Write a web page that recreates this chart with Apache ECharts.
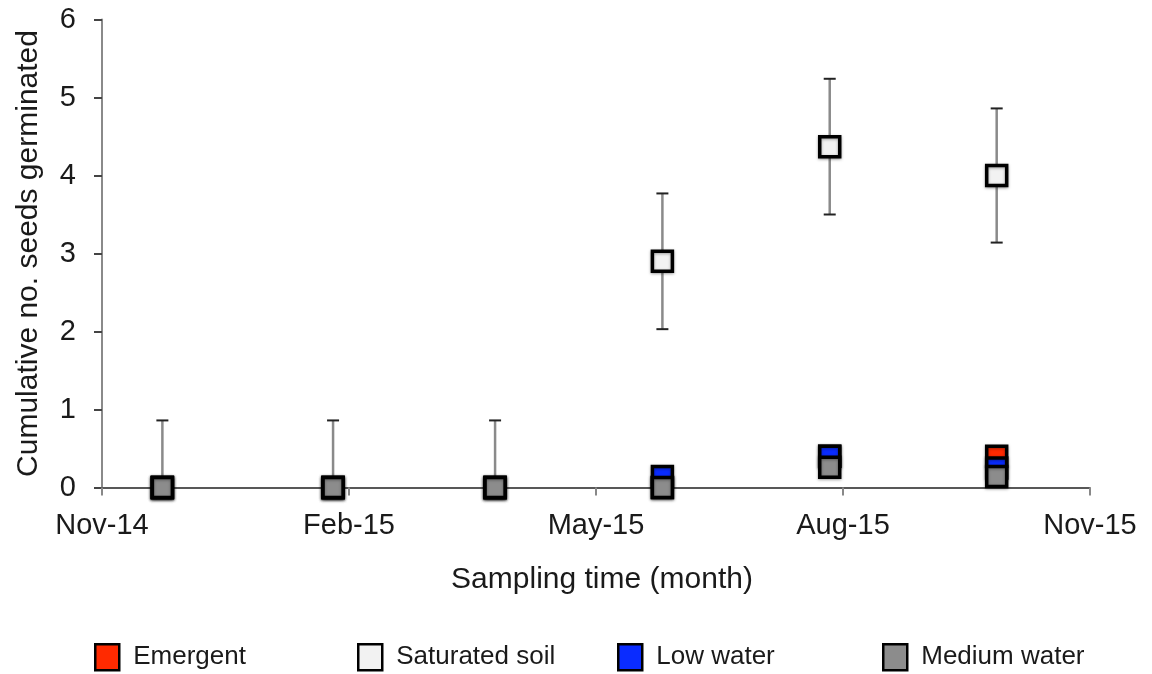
<!DOCTYPE html>
<html>
<head>
<meta charset="utf-8">
<title>Cumulative seed germination</title>
<script src="https://cdn.jsdelivr.net/npm/echarts@6/dist/echarts.min.js"></script>
<style>
  html, body { margin: 0; padding: 0; background: #ffffff; }
  #chart { width: 1152px; height: 674px; }
</style>
</head>
<body>
<div id="chart"></div>
<script>
// Sampling dates of the germination trial
const sampleDates = ['2014-11-23', '2015-01-26', '2015-03-25', '2015-05-26', '2015-07-27', '2015-09-27'];

// Mean cumulative number of seeds germinated per treatment
const emergent = [0, 0, 0, 0, 0.40, 0.40];
const saturatedSoil = [0, 0, 0, 2.90, 4.37, 4.00];
const saturatedSoilErr = [0.86, 0.86, 0.86, 0.87, 0.87, 0.86];
const lowWater = [0, 0, 0, 0.14, 0.40, 0.25];
const mediumWater = [0, 0, 0, 0, 0.26, 0.14];

// Month axis ticks (one every three months, starting Nov-14)
const tickDates = ['2014-11-01', '2015-02-01', '2015-05-01', '2015-08-01', '2015-11-01'];
const tickLabels = ['Nov-14', 'Feb-15', 'May-15', 'Aug-15', 'Nov-15'];
const yTickLabels = ['0', '1', '2', '3', '4', '5', '6'];

const FONT = "'Liberation Sans', Arial, Helvetica, sans-serif";
const TEXT = '#1a1a1a';

// Position of a date on a month-based axis (0 = start of the first tick month)
function monthPos(str) {
  const [y, m, d] = str.split('-').map(Number);
  const [y0, m0] = tickDates[0].split('-').map(Number);
  const daysInMonth = new Date(y, m, 0).getDate();
  return (y - y0) * 12 + (m - m0) + (d - 1) / daysInMonth;
}

const xs = sampleDates.map(monthPos);
const tickPos = tickDates.map(monthPos);
const xStep = tickPos[1] - tickPos[0];

function pairs(values) {
  return values.map((v, i) => [xs[i], v]);
}

const colors = {
  'Emergent': '#ff2a00',
  'Saturated soil': '#f2f2f2',
  'Low water': '#0a2cff',
  'Medium water': '#8c8c8c'
};

function markerSeries(name, values) {
  return {
    name: name,
    type: 'scatter',
    data: pairs(values),
    symbol: 'rect',
    symbolSize: 20,
    z: 3,
    itemStyle: {
      color: colors[name],
      borderColor: '#000000',
      borderWidth: 3.5,
      opacity: 1,
      shadowBlur: 3,
      shadowColor: 'rgba(0,0,0,0.35)',
      shadowOffsetY: 1
    },
    emphasis: { disabled: true }
  };
}

const yMin = 0, yMax = 6;

// Error bars for the saturated soil treatment, drawn beneath the markers
const errorSeries = {
  type: 'custom',
  name: 'err',
  z: 1,
  silent: true,
  data: saturatedSoil.map((v, i) => [xs[i], v, saturatedSoilErr[i]]),
  renderItem: function (params, api) {
    const x = api.value(0), y = api.value(1), e = api.value(2);
    const hiVal = Math.min(y + e, yMax);
    const loVal = Math.max(y - e, yMin);
    const hi = api.coord([x, hiVal]);
    const lo = api.coord([x, loVal]);
    const half = 6;
    const children = [{
      type: 'line',
      shape: { x1: hi[0], y1: hi[1], x2: lo[0], y2: lo[1] },
      style: { stroke: '#8a8a8a', lineWidth: 2.5 }
    }];
    if (y + e <= yMax) {
      children.push({
        type: 'line',
        shape: { x1: hi[0] - half, y1: hi[1], x2: hi[0] + half, y2: hi[1] },
        style: { stroke: '#222222', lineWidth: 2 }
      });
    }
    if (y - e >= yMin) {
      children.push({
        type: 'line',
        shape: { x1: lo[0] - half, y1: lo[1], x2: lo[0] + half, y2: lo[1] },
        style: { stroke: '#222222', lineWidth: 2 }
      });
    }
    return { type: 'group', children: children };
  }
};

const legendNames = ['Emergent', 'Saturated soil', 'Low water', 'Medium water'];
const legendLeft = [94, 357, 617, 882];

const legends = legendNames.map((name, i) => ({
  data: [{ name: name, icon: 'rect' }],
  left: legendLeft[i],
  top: 643,
  padding: 0,
  itemWidth: 24,
  itemHeight: 26,
  selectedMode: false,
  itemStyle: { borderColor: '#000000', borderWidth: 2.5 },
  textStyle: { fontFamily: FONT, fontSize: 26, color: TEXT, padding: [0, 0, 0, 9] }
}));

const chart = echarts.init(document.getElementById('chart'), null, { renderer: 'canvas' });

chart.setOption({
  animation: false,
  backgroundColor: '#ffffff',
  grid: { left: 102, right: 62, top: 19.5, bottom: 186.5, containLabel: false },
  legend: legends,
  xAxis: {
    type: 'value',
    min: tickPos[0],
    max: tickPos[tickPos.length - 1],
    interval: xStep,
    name: 'Sampling time (month)',
    nameLocation: 'middle',
    nameGap: 77,
    nameTextStyle: { fontFamily: FONT, fontSize: 30, color: TEXT, padding: [0, 0, 0, 12] },
    axisLine: { show: true, onZero: false, lineStyle: { color: '#222222', width: 1.5 } },
    axisTick: { show: true, inside: false, length: 8, lineStyle: { color: '#888888', width: 2 } },
    axisLabel: {
      fontFamily: FONT, fontSize: 29, color: TEXT, margin: 24,
      formatter: function (v) {
        const idx = tickPos.findIndex(p => Math.abs(p - v) < 1e-6);
        return idx >= 0 ? tickLabels[idx] : '';
      }
    },
    splitLine: { show: false }
  },
  yAxis: {
    type: 'value',
    min: yMin,
    max: yMax,
    interval: 1,
    name: 'Cumulative no. seeds germinated',
    nameLocation: 'middle',
    nameGap: 58,
    nameTextStyle: { fontFamily: FONT, fontSize: 30, color: TEXT },
    axisLine: { show: true, lineStyle: { color: '#8a8a8a', width: 2 } },
    axisTick: { show: true, inside: false, length: 8, lineStyle: { color: '#444444', width: 2 } },
    axisLabel: {
      fontFamily: FONT, fontSize: 29, color: TEXT, margin: 26,
      formatter: function (v) { return yTickLabels[Math.round(v)]; }
    },
    splitLine: { show: false }
  },
  series: [
    errorSeries,
    markerSeries('Emergent', emergent),
    markerSeries('Saturated soil', saturatedSoil),
    markerSeries('Low water', lowWater),
    markerSeries('Medium water', mediumWater)
  ]
});
</script>
</body>
</html>
